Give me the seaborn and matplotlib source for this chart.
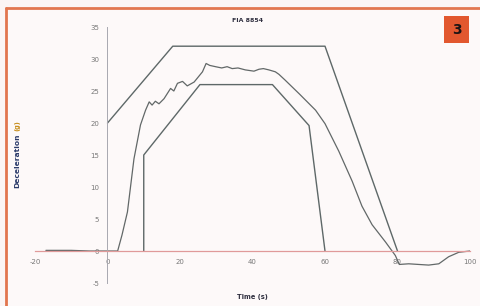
import matplotlib
matplotlib.use("Agg")
import matplotlib.pyplot as plt
import seaborn as sns
import pandas as pd
from matplotlib.lines import Line2D
from matplotlib.patches import Rectangle

# ---- data ----
signal_t = [-17, -10, -5, 0, 2.8, 4, 5.5, 7.3, 9.1, 10.5, 11.5, 12.3, 13.2, 14.2, 15.6,
            16.5, 17.4, 18.3, 19.3, 20.7, 22, 23.9, 26.2, 27.2, 28.2, 29.8, 31.5, 33,
            34.4, 36, 38, 40.4, 41.8, 43, 44.5, 46.3, 47.3, 49, 53, 57.4, 60, 63.8,
            67.5, 70.2, 73, 76.7, 79.4, 80.5, 83.1, 85.8, 88.6, 91.4, 94.1, 96.9, 100]
signal_g = [0.1, 0.1, 0.0, 0.0, 0.0, 2.5, 6.1, 14.4, 19.7, 22.0, 23.3, 22.8, 23.4, 23.0, 23.8,
            24.6, 25.4, 25.0, 26.2, 26.5, 25.8, 26.4, 28.0, 29.3, 29.0, 28.8, 28.6, 28.8,
            28.5, 28.6, 28.3, 28.1, 28.4, 28.5, 28.3, 28.0, 27.6, 26.7, 24.5, 22.0, 19.9, 15.6,
            10.9, 7.0, 4.1, 1.4, -0.7, -2.1, -2.0, -2.1, -2.2, -2.0, -0.9, -0.2, 0.0]
upper_t = [0, 18, 60, 80]
upper_g = [20, 32, 32, 0]
lower_t = [10, 10, 25.5, 45.5, 55.6, 60]
lower_g = [0, 15, 26, 26, 19.6, 0]
x_ticks = [-20, 0, 20, 40, 60, 80, 100]
y_ticks = [-5, 0, 5, 10, 15, 20, 25, 30, 35]
title = "FIA 8854"
x_label = "Time (s)"
y_label = "Deceleration"
y_unit = "(g)"
badge = "3"

sns.set_style("white")
plt.rcParams['font.family'] = ['DejaVu Sans']

W, H = 481, 306
fig = plt.figure(figsize=(W / 100, H / 100), dpi=100)
fig.patch.set_facecolor("#fbf5f4")

left_px, right_px = 35, 470
top_px, bot_px = 27, 283
ax = fig.add_axes([left_px / W, 1 - bot_px / H, (right_px - left_px) / W, (bot_px - top_px) / H])
ax.set_facecolor("none")

line_col = "#5e6868"
df_sig = pd.DataFrame({"t": signal_t, "g": signal_g})
df_up = pd.DataFrame({"t": upper_t, "g": upper_g})
df_lo = pd.DataFrame({"t": lower_t, "g": lower_g})
sns.lineplot(data=df_up, x="t", y="g", sort=False, estimator=None, ax=ax, color=line_col, lw=1.0)
sns.lineplot(data=df_lo, x="t", y="g", sort=False, estimator=None, ax=ax, color=line_col, lw=1.0)
sns.lineplot(data=df_sig, x="t", y="g", sort=False, estimator=None, ax=ax, color="#626868", lw=0.9)

ax.set_xlim(-20, 100)
ax.set_ylim(-5, 35)
ax.set_xticks(x_ticks)
ax.set_yticks(y_ticks)
ax.set_xticklabels([str(v) for v in x_ticks])
ax.set_yticklabels([str(v) for v in y_ticks])
ax.set_xlabel("")
ax.set_ylabel("")

for s in ["top", "right"]:
    ax.spines[s].set_visible(False)
ax.spines["left"].set_position(("data", 0))
ax.spines["bottom"].set_position(("data", 0))
ax.spines["left"].set_color("#a8a8b0")
ax.spines["left"].set_linewidth(0.7)
ax.spines["bottom"].set_color("#e09a9a")
ax.spines["bottom"].set_linewidth(0.9)
ax.tick_params(axis="y", direction="out", length=2, width=0.6, color="#a8a8b0",
               labelsize=5, labelcolor="#787878", pad=4)
ax.tick_params(axis="x", length=0, labelsize=5, labelcolor="#787878", pad=6)
ax.grid(False)

# titles / labels
fig.text(248 / W, 1 - 20 / H, title, ha="center", va="center", fontsize=4.5,
         fontweight="bold", color="#303040")
fig.text(252 / W, 1 - 297 / H, x_label, ha="center", va="center", fontsize=4.8,
         fontweight="bold", color="#303040")
fig.text(17 / W, 1 - 161 / H, y_label, ha="center", va="center", rotation=90,
         fontsize=5.4, fontweight="bold", color="#2a3a6a")
fig.text(17 / W, 1 - 126 / H, y_unit, ha="center", va="center", rotation=90,
         fontsize=4.8, fontweight="bold", color="#c89020")

# frame
fig.add_artist(Line2D([6 / W, 1], [1 - 8 / H, 1 - 8 / H], transform=fig.transFigure,
                      color="#e2764e", lw=2.0))
fig.add_artist(Line2D([6 / W, 6 / W], [0, 1 - 8 / H], transform=fig.transFigure,
                      color="#e2764e", lw=2.0))
fig.add_artist(Rectangle((7 / W, 0), 1, (1 - 8 / H) - 0.005, transform=fig.transFigure,
                         facecolor="#fdf9f9", edgecolor="none", zorder=-10))

# badge
fig.add_artist(Rectangle((444 / W, 1 - 43 / H), 25 / W, 27 / H, transform=fig.transFigure,
                         facecolor="#e2582f", edgecolor="none"))
fig.text(456.5 / W, 1 - 29.5 / H, badge, ha="center", va="center", fontsize=10,
         fontweight="bold", color="#1e1414")

fig.savefig("out.png", dpi=100, facecolor=fig.get_facecolor())
